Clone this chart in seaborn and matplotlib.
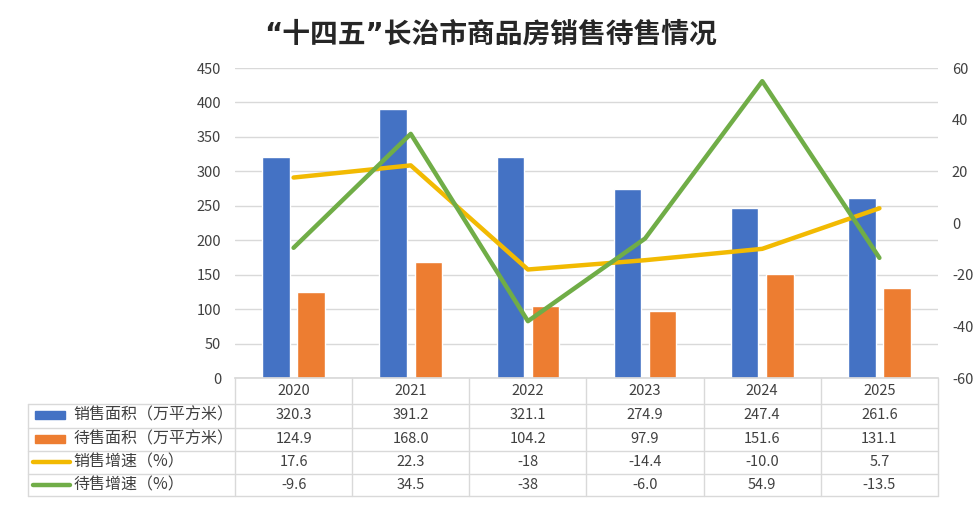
import matplotlib
matplotlib.use("Agg")
import matplotlib.pyplot as plt
import seaborn as sns
import pandas as pd
import numpy as np
from matplotlib.patches import Rectangle

sns.set_theme(style="white")
plt.rcParams['font.family'] = ['Noto Sans CJK SC', 'DejaVu Sans']
plt.rcParams['axes.unicode_minus'] = False

years = ["2020", "2021", "2022", "2023", "2024", "2025"]
sales_area = [320.3, 391.2, 321.1, 274.9, 247.4, 261.6]
stock_area = [124.9, 168.0, 104.2, 97.9, 151.6, 131.1]
sales_growth = [17.6, 22.3, -18, -14.4, -10.0, 5.7]
stock_growth = [-9.6, 34.5, -38, -6.0, 54.9, -13.5]
sales_growth_txt = ["17.6", "22.3", "-18", "-14.4", "-10.0", "5.7"]
stock_growth_txt = ["-9.6", "34.5", "-38", "-6.0", "54.9", "-13.5"]

names = ["销售面积（万平方米）", "待售面积（万平方米）", "销售增速（%）", "待售增速（%）"]
colors = ["#4472C4", "#ED7D31", "#F2BA02", "#70AD47"]
title = "“十四五”长治市商品房销售待售情况"

W, H = 979, 509
fig = plt.figure(figsize=(W / 100, H / 100), dpi=100)

x0, x1 = 235, 938
ytop, ybot = 68, 378
ax = fig.add_axes([x0 / W, 1 - ybot / H, (x1 - x0) / W, (ybot - ytop) / H])

df = pd.DataFrame({
    "year": years * 2,
    "value": sales_area + stock_area,
    "series": [names[0]] * 6 + [names[1]] * 6,
})
sns.barplot(data=df, x="year", y="value", hue="series", palette=colors[:2],
            ax=ax, width=0.6, gap=0.22, legend=False, saturation=1)
ax.set_ylim(0, 450)
ax.set_xlim(-0.5, 5.5)
ax.set_yticks(range(0, 451, 50))
ax.grid(axis="y", color="#D9D9D9", linewidth=1)
ax.set_axisbelow(True)
for s in ["top", "right", "left"]:
    ax.spines[s].set_visible(False)
ax.spines["bottom"].set_color("#D9D9D9")
ax.set_xlabel("")
ax.set_ylabel("")
ax.set_xticks([])
ax.tick_params(axis="y", length=0, labelsize=10.5, labelcolor="#404040", pad=10)

ax2 = ax.twinx()
xs = np.arange(len(years))
sns.lineplot(x=xs, y=sales_growth, color=colors[2], linewidth=3.2, ax=ax2)
sns.lineplot(x=xs, y=stock_growth, color=colors[3], linewidth=3.2, ax=ax2)
ax2.set_ylim(-60, 60)
ax2.set_yticks(range(-60, 61, 20))
ax2.set_xlim(-0.5, 5.5)
for s in ["top", "right", "left", "bottom"]:
    ax2.spines[s].set_visible(False)
ax2.tick_params(axis="y", length=0, labelsize=10.5, labelcolor="#404040", pad=10)
ax2.grid(False)

fig.text(491 / W, 1 - 35 / H, title, ha="center", va="center",
         fontsize=20, fontweight="bold", color="#262626",
         family=['DejaVu Sans', 'Noto Sans CJK SC'])

# Data table
tl = 28
tbot = 496
colw = (x1 - x0) / 6
left_units = (x0 - tl) / colw
tax = fig.add_axes([tl / W, 1 - tbot / H, (x1 - tl) / W, (tbot - ybot) / H])
tax.set_xlim(-0.5 - left_units, 5.5)
tax.set_ylim(5, 0)
tax.axis("off")
gc = "#D9D9D9"
for i, yv in enumerate(years):
    tax.text(i, 0.55, yv, ha="center", va="center", fontsize=10.5, color="#404040")
for k in range(7):
    tax.plot([k - 0.5, k - 0.5], [0, 5], color=gc, lw=1, clip_on=False)
tax.plot([-0.5 - left_units] * 2, [1.1, 5], color=gc, lw=1, clip_on=False)
for r in [1.1, 2.1, 3.1, 4.05, 5]:
    tax.plot([-0.5 - left_units, 5.5], [r, r], color=gc, lw=1, clip_on=False)

rows_txt = [[f"{v:.1f}" for v in sales_area], [f"{v:.1f}" for v in stock_area],
            sales_growth_txt, stock_growth_txt]
centers = [1.58, 2.58, 3.57, 4.52]
lx = -0.5 - left_units
for r, (nm, vals, yc) in enumerate(zip(names, rows_txt, centers)):
    if r < 2:
        tax.add_patch(Rectangle((lx + 0.06, yc - 0.17), 0.26, 0.34,
                                color=colors[r], clip_on=False))
    else:
        tax.plot([lx + 0.045, lx + 0.36], [yc, yc], color=colors[r], lw=3.2,
                 solid_capstyle="round", clip_on=False)
    tax.text(lx + 0.39, yc, nm, ha="left", va="center", fontsize=11.5, color="#404040")
    for i, v in enumerate(vals):
        tax.text(i, yc, v, ha="center", va="center", fontsize=10.5, color="#404040")

fig.savefig("out.png", dpi=100, facecolor="white")
